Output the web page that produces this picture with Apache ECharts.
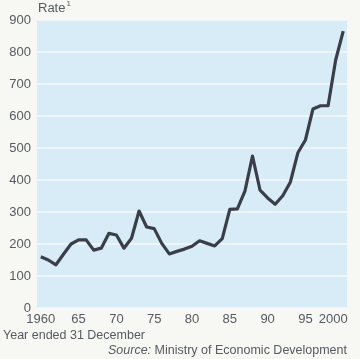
<!DOCTYPE html>
<html><head><meta charset="utf-8">
<script src="https://cdn.jsdelivr.net/npm/echarts@6/dist/echarts.min.js"></script>
<style>html,body{margin:0;padding:0;background:#f7f7f3;}#c{width:360px;height:359px;}</style>
</head><body><div id="c"></div>
<script>
var years = [];
for (var y = 1960; y <= 2000; y++) years.push(String(y));
var rates = [160, 150, 135, 168, 200, 213, 213, 181, 187, 233,
             228, 187, 218, 303, 253, 248, 202, 169, 177, 184,
             193, 210, 202, 194, 217, 308, 310, 365, 475, 368,
             344, 324, 351, 393, 485, 525, 622, 632, 632, 775, 865];
var yTicks = {min: 0, max: 900, interval: 100};

var chart = echarts.init(document.getElementById('c'));
var txt = '#555a63';
var ff = 'Liberation Sans, Arial, sans-serif';
chart.setOption({
  backgroundColor: '#f7f7f3',
  animation: false,
  title: [
    {text: '{a|Rate}{s|1}', left: 38, top: 0, padding: 0,
     textStyle: {fontWeight: 'normal', rich: {
       a: {fontSize: 13, color: txt, fontFamily: ff, fontWeight: 'normal', lineHeight: 16},
       s: {fontSize: 8, color: txt, fontFamily: ff, fontWeight: 'normal', lineHeight: 16, verticalAlign: 'top', padding: [0, 0, 6, 1]}}}},
    {text: 'Year ended 31 December', left: 3, top: 329, padding: 0,
     textStyle: {fontSize: 12.5, color: txt, fontFamily: ff, fontWeight: 'normal'}},
    {text: '{i|Source:} Ministry of Economic Development', right: 13, top: 344, padding: 0,
     textStyle: {fontSize: 12.5, color: txt, fontFamily: ff, fontWeight: 'normal',
                 rich: {i: {fontSize: 12.5, color: txt, fontFamily: ff, fontStyle: 'italic'}}}}
  ],
  grid: {left: 37, right: 13, top: 20, bottom: 51, show: true, backgroundColor: '#d7ecf7', borderWidth: 0},
  xAxis: {
    type: 'category', data: years, boundaryGap: true,
    axisLine: {show: false}, axisTick: {show: false},
    axisLabel: {interval: 4, margin: 5, color: txt, fontSize: 13, fontFamily: ff,
      rich: {e: {fontSize: 13, color: txt, fontFamily: ff, padding: [0, 20, 0, 0]}},
      formatter: function (v) {
        if (v === '2000') return '{e|2000}';
        return v === '1960' ? v : v.slice(2);
      }}
  },
  yAxis: {
    type: 'value', min: yTicks.min, max: yTicks.max, interval: yTicks.interval,
    axisLine: {show: false}, axisTick: {show: false},
    axisLabel: {margin: 6, color: txt, fontSize: 13, fontFamily: ff},
    splitLine: {lineStyle: {color: '#f4f9fb', width: 1.5}}
  },
  series: [{
    type: 'line', data: rates, symbol: 'none', smooth: false,
    lineStyle: {color: '#3a3e48', width: 3.2, join: 'round'}
  }]
});
</script></body></html>
